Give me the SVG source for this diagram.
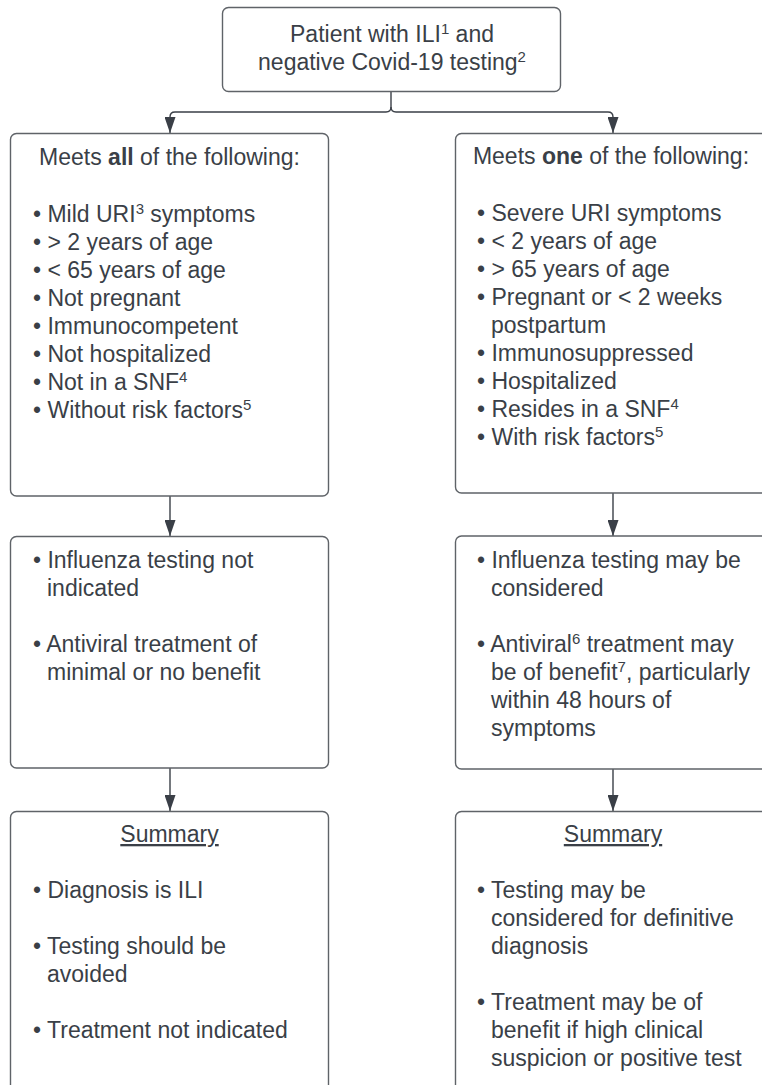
<svg xmlns="http://www.w3.org/2000/svg" width="762" height="1085" viewBox="0 0 762 1085">
<style>
.box{fill:#fff;stroke:#5f6368;stroke-width:1.4}
.t{font-family:"Liberation Sans",Arial,sans-serif;font-size:23px;fill:#3a3f47}
.c{text-anchor:middle}
.sup{font-size:15px}
.b{font-weight:bold}
.con{fill:none;stroke:#3a3f47;stroke-width:1.4}
</style>
<defs>
<marker id="arr" viewBox="0 0 16 11" refX="16" refY="5.5" markerWidth="16" markerHeight="11" markerUnits="userSpaceOnUse" orient="auto">
<path d="M0,0 L16,5.5 L0,11 Z" fill="#3a3f47"/>
</marker>
</defs>
<rect width="762" height="1085" fill="#fff"/>
<g id="connectors">
<path class="con" d="M391,91 V107 Q391,112 386,112 H175 Q170,112 170,117 V133" marker-end="url(#arr)"/>
<path class="con" d="M391,107 Q391,112 396,112 H608 Q613,112 613,117 V133" marker-end="url(#arr)"/>
<path class="con" d="M170,496 V536" marker-end="url(#arr)"/>
<path class="con" d="M613,493 V536" marker-end="url(#arr)"/>
<path class="con" d="M170,768 V811" marker-end="url(#arr)"/>
<path class="con" d="M613,769 V811" marker-end="url(#arr)"/>
</g>
<g id="start">
<rect class="box" x="222.5" y="7.5" width="338" height="84" rx="6"/>
<text class="t c" x="392" y="42">Patient with ILI<tspan class="sup" dy="-8">1</tspan><tspan dy="8"> and</tspan></text>
<text class="t c" x="392" y="70">negative Covid-19 testing<tspan class="sup" dy="-8">2</tspan></text>
</g>
<g id="mild">
<rect class="box" x="10.5" y="133.5" width="318" height="362.5" rx="6"/>
<text class="t c" x="169.5" y="165">Meets <tspan class="b">all</tspan> of the following:</text>
<text class="t" x="33" y="222">• Mild URI<tspan class="sup" dy="-8">3</tspan><tspan dy="8"> symptoms</tspan></text>
<text class="t" x="33" y="250">• &gt; 2 years of age</text>
<text class="t" x="33" y="278">• &lt; 65 years of age</text>
<text class="t" x="33" y="306">• Not pregnant</text>
<text class="t" x="33" y="334">• Immunocompetent</text>
<text class="t" x="33" y="362">• Not hospitalized</text>
<text class="t" x="33" y="390">• Not in a SNF<tspan class="sup" dy="-8">4</tspan></text>
<text class="t" x="33" y="418">• Without risk factors<tspan class="sup" dy="-8">5</tspan></text>
</g>
<g id="severe">
<rect class="box" x="455.5" y="133.5" width="318" height="359.5" rx="6"/>
<text class="t c" x="611" y="164">Meets <tspan class="b">one</tspan> of the following:</text>
<text class="t" x="477" y="221">• Severe URI symptoms</text>
<text class="t" x="477" y="249">• &lt; 2 years of age</text>
<text class="t" x="477" y="277">• &gt; 65 years of age</text>
<text class="t" x="477" y="305">• Pregnant or &lt; 2 weeks</text>
<text class="t" x="491" y="333">postpartum</text>
<text class="t" x="477" y="361">• Immunosuppressed</text>
<text class="t" x="477" y="389">• Hospitalized</text>
<text class="t" x="477" y="417">• Resides in a SNF<tspan class="sup" dy="-8">4</tspan></text>
<text class="t" x="477" y="445">• With risk factors<tspan class="sup" dy="-8">5</tspan></text>
</g>
<g id="notindicated">
<rect class="box" x="10.5" y="536.5" width="318" height="231.5" rx="6"/>
<text class="t" x="33" y="568">• Influenza testing not</text>
<text class="t" x="47" y="596">indicated</text>
<text class="t" x="33" y="652">• Antiviral treatment of</text>
<text class="t" x="47" y="680">minimal or no benefit</text>
</g>
<g id="considered">
<rect class="box" x="455.5" y="536" width="318" height="233" rx="6"/>
<text class="t" x="477" y="568">• Influenza testing may be</text>
<text class="t" x="491" y="596">considered</text>
<text class="t" x="477" y="652">• Antiviral<tspan class="sup" dy="-8">6</tspan><tspan dy="8"> treatment may</tspan></text>
<text class="t" x="491" y="680">be of benefit<tspan class="sup" dy="-8">7</tspan><tspan dy="8">, particularly</tspan></text>
<text class="t" x="491" y="708">within 48 hours of</text>
<text class="t" x="491" y="736">symptoms</text>
</g>
<g id="summaryleft">
<rect class="box" x="10.5" y="811.5" width="318" height="300" rx="6"/>
<text class="t c" x="169.5" y="842" text-decoration="underline">Summary</text>
<text class="t" x="33" y="898">• Diagnosis is ILI</text>
<text class="t" x="33" y="954">• Testing should be</text>
<text class="t" x="47" y="982">avoided</text>
<text class="t" x="33" y="1038">• Treatment not indicated</text>
</g>
<g id="summaryright">
<rect class="box" x="455.5" y="811.5" width="318" height="300" rx="6"/>
<text class="t c" x="613" y="842" text-decoration="underline">Summary</text>
<text class="t" x="477" y="898">• Testing may be</text>
<text class="t" x="491" y="926">considered for definitive</text>
<text class="t" x="491" y="954">diagnosis</text>
<text class="t" x="477" y="1010">• Treatment may be of</text>
<text class="t" x="491" y="1038">benefit if high clinical</text>
<text class="t" x="491" y="1066">suspicion or positive test</text>
</g>
</svg>
